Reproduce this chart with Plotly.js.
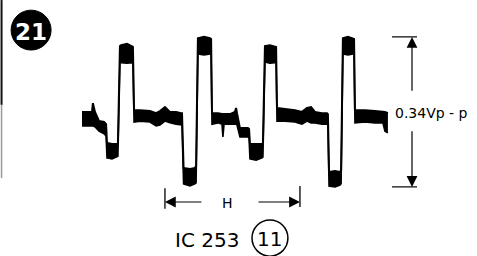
<!DOCTYPE html>
<html><head><meta charset="utf-8">
<script src="https://cdn.plot.ly/plotly-3.0.1.min.js"></script>
<style>html,body{margin:0;padding:0;background:#fff;}#chart{width:477px;height:256px;}</style>
</head><body><div id="chart"></div>
<script>
// Oscilloscope trace, IC253 pin 11 — time in microseconds, level in mV
const timeUs = [0,4.4,4.8,5.7,7.5,9.7,10.6,11.0,11.4,13.2,15.4,15.8,16.7,17.2,19.8,22.0,22.4,22.9,25.5,29.9,32.6,34.3,36.5,38.7,41.4,43.6,44.0,44.7,47.5,49.7,50.2,51.0,53.7,56.3,56.8,57.2,59.8,61.6,62.0,62.5,65.1,67.3,67.8,68.2,69.5,73.0,73.5,73.9,76.6,79.2,79.6,80.5,82.7,84.9,85.4,85.8,89.3,93.7,96.8,99.0,100.8,102.5,105.6,107.8,108.2,108.7,111.3,113.5,114.0,114.8,117.0,119.2,119.7,120.1,124.5,128.9,132.4,133.3,134.6];
// upper edge of the (noisy, thick) trace
const upperMv = [169,169,189,169,148,146,141,96,98,96,96,98,319,321,324,319,317,173,173,171,166,171,180,169,169,166,166,41,39,41,46,337,340,337,335,166,166,164,164,164,164,169,178,166,132,132,130,96,96,96,98,319,321,319,317,178,176,173,169,178,180,169,166,166,164,32,34,32,36,337,340,337,335,173,173,171,169,169,166];
// lower edge of the trace
const lowerMv = [137,137,137,135,125,119,114,64,64,62,66,68,283,281,280,281,283,146,148,146,137,139,148,144,141,139,139,5,0,5,7,301,299,301,303,141,144,141,112,141,141,141,141,139,112,112,109,62,59,64,66,283,280,281,283,148,148,146,141,148,144,144,141,141,139,0,-2,2,5,301,299,301,303,144,146,144,144,125,121];

const figLabel = '21';
const ampLabel = '0.34Vp - p';
const periodLabel = 'H';
const icLabel = 'IC 253';
const pinLabel = '11';

// H period marker (µs) and amplitude marker column (µs)
const hStartUs = 36.5, hEndUs = 95.9;
const ampMarkUs = 145.2;

const vMax = Math.max(...upperMv);
const vMin = Math.min(...lowerMv);

const traces = [
  {x: timeUs, y: lowerMv, mode: 'lines', line: {color: '#000', width: 1.6}, hoverinfo: 'skip', showlegend: false},
  {x: timeUs, y: upperMv, mode: 'lines', fill: 'tonexty', fillcolor: '#000', line: {color: '#000', width: 2}, hoverinfo: 'skip', showlegend: false}
];

const txtFont = {family: 'DejaVu Sans', color: '#000'};
const arrowBase = {text: '', showarrow: true, arrowhead: 2, arrowsize: 1.8, arrowwidth: 1.2, arrowcolor: '#000', axref: 'x', ayref: 'y', standoff: 0, startstandoff: 0};

const layout = {
  width: 477, height: 256,
  margin: {l: 0, r: 0, t: 0, b: 0, pad: 0},
  paper_bgcolor: '#fff', plot_bgcolor: '#fff',
  showlegend: false,
  xaxis: {range: [-36.08, 173.8], visible: false, fixedrange: true},
  yaxis: {range: [-159.6, 424.1], visible: false, fixedrange: true},
  shapes: [
    // left frame edge
    {type: 'line', x0: -35.4, x1: -35.4, y0: 424, y1: 185, line: {color: '#111', width: 2}},
    {type: 'line', x0: -35.4, x1: -35.4, y0: 185, y1: 18, line: {color: '#999', width: 1.5}},
    // figure badge
    {type: 'circle', x0: -31.2, x1: -13.6, y0: 310, y1: 401, fillcolor: '#000', line: {color: '#000', width: 1}},
    // amplitude extension lines
    {type: 'line', x0: 136.4, x1: 147.4, y0: vMax, y1: vMax, line: {color: '#000', width: 1.2}},
    {type: 'line', x0: 136.4, x1: 147.4, y0: vMin, y1: vMin, line: {color: '#000', width: 1.2}},
    // H ticks
    {type: 'line', x0: hStartUs, x1: hStartUs, y0: -5, y1: -52, line: {color: '#000', width: 1.3}},
    {type: 'line', x0: hEndUs, x1: hEndUs, y0: 0, y1: -48, line: {color: '#000', width: 1.3}},
    // pin circle
    {type: 'circle', x0: 74.8, x1: 90.6, y0: -160, y1: -77.5, line: {color: '#000', width: 1.5}}
  ],
  annotations: [
    Object.assign({x: ampMarkUs, y: vMax, ax: ampMarkUs, ay: 214}, arrowBase),
    Object.assign({x: ampMarkUs, y: vMin, ax: ampMarkUs, ay: 128}, arrowBase),
    Object.assign({x: hStartUs, y: -36.5, ax: 53.2, ay: -36.5}, arrowBase),
    Object.assign({x: hEndUs, y: -36.5, ax: 77.0, ay: -36.5}, arrowBase),
    {x: 136.8, y: 166, text: ampLabel, showarrow: false, xanchor: 'left', yanchor: 'middle', font: Object.assign({size: 14}, txtFont)},
    {x: 64.2, y: -39, text: periodLabel, showarrow: false, xanchor: 'center', yanchor: 'middle', font: Object.assign({size: 14}, txtFont)},
    {x: 55.2, y: -123, text: icLabel, showarrow: false, xanchor: 'center', yanchor: 'middle', font: Object.assign({size: 20}, txtFont)},
    {x: 82.7, y: -121, text: pinLabel, showarrow: false, xanchor: 'center', yanchor: 'middle', font: Object.assign({size: 20}, txtFont)},
    {x: -22.4, y: 352, text: '<b>' + figLabel + '</b>', showarrow: false, xanchor: 'center', yanchor: 'middle', font: {family: 'DejaVu Sans', size: 23, color: '#fff'}}
  ]
};

Plotly.newPlot('chart', traces, layout, {staticPlot: true, displayModeBar: false});
</script>
</body></html>
